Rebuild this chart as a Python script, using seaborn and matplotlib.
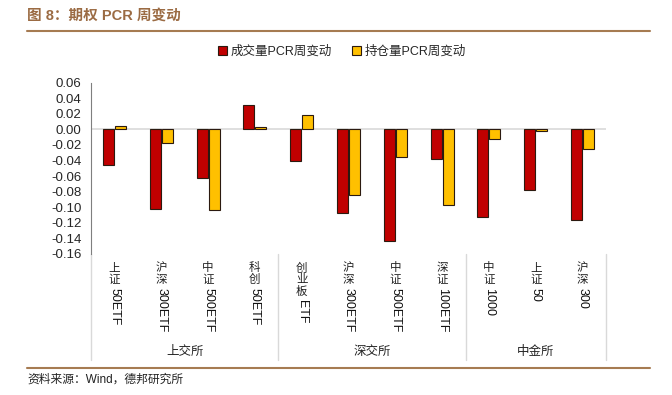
import matplotlib
matplotlib.use('Agg')
import matplotlib.pyplot as plt
import matplotlib.transforms as mtransforms
import seaborn as sns
import pandas as pd

# data
names = ['上证50ETF', '沪深300ETF', '中证500ETF', '科创50ETF',
         '创业板ETF', '沪深300ETF', '中证500ETF', '深证100ETF',
         '中证1000', '上证50', '沪深300']
exchanges = ['上交所', '深交所', '中金所']
group_sizes = [4, 4, 3]
vol_pcr = [-0.046, -0.102, -0.062, 0.032, -0.040, -0.107, -0.143, -0.038, -0.113, -0.078, -0.116]
oi_pcr = [0.004, -0.018, -0.103, 0.003, 0.019, -0.084, -0.036, -0.097, -0.012, -0.002, -0.025]
series = ['成交量PCR周变动', '持仓量PCR周变动']
yticks = [0.06, 0.04, 0.02, 0.00, -0.02, -0.04, -0.06, -0.08, -0.10, -0.12, -0.14, -0.16]

sns.set_style('white')
plt.rcParams['font.family'] = ['Liberation Sans', 'Noto Sans CJK SC']
plt.rcParams['axes.unicode_minus'] = False

keys = [f'{i}-{n}' for i, n in enumerate(names)]
df = pd.DataFrame({
    'key': keys * 2,
    'series': [series[0]] * len(keys) + [series[1]] * len(keys),
    'value': vol_pcr + oi_pcr,
})

fig = plt.figure(figsize=(6.72, 3.95), dpi=100)
W, H = 672, 395
ax = fig.add_axes([91 / W, 1 - 254 / H, (606 - 91) / W, (254 - 82.7) / H])

sns.barplot(data=df, x='key', y='value', hue='series', order=keys, hue_order=series,
            palette=['#C00000', '#FFC000'], width=0.51, gap=0.08, errorbar=None,
            edgecolor='#2b1a10', linewidth=0.8, saturation=1, ax=ax)

handles, labels = ax.get_legend_handles_labels()
ax.get_legend().remove()

ax.set_ylim(-0.16, 0.06)
ax.set_xlim(-0.5, len(names) - 0.5)
ax.set_yticks(yticks)
ax.set_yticklabels([f'{t:.2f}' for t in yticks], fontsize=9.5)
ax.set_xticks([])
ax.set_xlabel('')
ax.set_ylabel('')
ax.axhline(0, color='#d9d9d9', lw=1.2, zorder=0)
for s in ['top', 'right', 'bottom']:
    ax.spines[s].set_visible(False)
ax.spines['left'].set_color('#7f7f7f')
ax.spines['left'].set_linewidth(0.8)
ax.tick_params(axis='y', direction='out', length=4, width=0.8, color='#7f7f7f', pad=3)

# category labels: stacked CJK chars, then rotated latin part
step = 11.7
for i, n in enumerate(names):
    cjk = [c for c in n if ord(c) > 127]
    latin = ''.join(c for c in n if ord(c) <= 127)
    for j, c in enumerate(cjk):
        ax.annotate(c, xy=(i, 0), xycoords=('data', 'axes fraction'),
                    xytext=(0, -(14.5 + j * step)), textcoords='offset pixels',
                    ha='center', va='center', fontsize=8.3, color='#222222')
    ax.annotate(latin, xy=(i, 0), xycoords=('data', 'axes fraction'),
                xytext=(0, -(9.5 + len(cjk) * step + 1)), textcoords='offset pixels',
                ha='center', va='top', rotation=270, fontsize=9, color='#111111')

# group separators and labels
trans = mtransforms.blended_transform_factory(ax.transData, fig.transFigure)
bounds = [-0.5]
for g in group_sizes:
    bounds.append(bounds[-1] + g)
for b in bounds:
    ax.plot([b, b], [1 - 254 / H, 1 - 360 / H], transform=trans, color='#d9d9d9',
            lw=1, clip_on=False)
for k, ex in enumerate(exchanges):
    ax.text((bounds[k] + bounds[k + 1]) / 2, 1 - 352 / H, ex, transform=trans,
            ha='center', va='center', fontsize=9, color='#222222')

fig.legend(handles, labels, loc='center', bbox_to_anchor=(342 / W, 1 - 52 / H),
           ncol=2, frameon=False, fontsize=9, handlelength=0.75, handleheight=0.75,
           handletextpad=0.3, columnspacing=1.6)

brown = '#A67B52'
fig.text(27 / W, 1 - 16 / H, '图 8：期权 PCR 周变动', fontsize=10.5, fontweight='bold',
         color='#9B6B43', ha='left', va='center')
fig.add_artist(plt.Line2D([27 / W, 650 / W], [1 - 31 / H, 1 - 31 / H], color=brown, lw=1.5))
fig.add_artist(plt.Line2D([27 / W, 650 / W], [1 - 368 / H, 1 - 368 / H], color=brown, lw=1.5))
fig.text(27 / W, 1 - 380 / H, '资料来源：Wind，德邦研究所', fontsize=8.5, color='#222222',
         ha='left', va='center')

fig.savefig('out.png', dpi=100)
